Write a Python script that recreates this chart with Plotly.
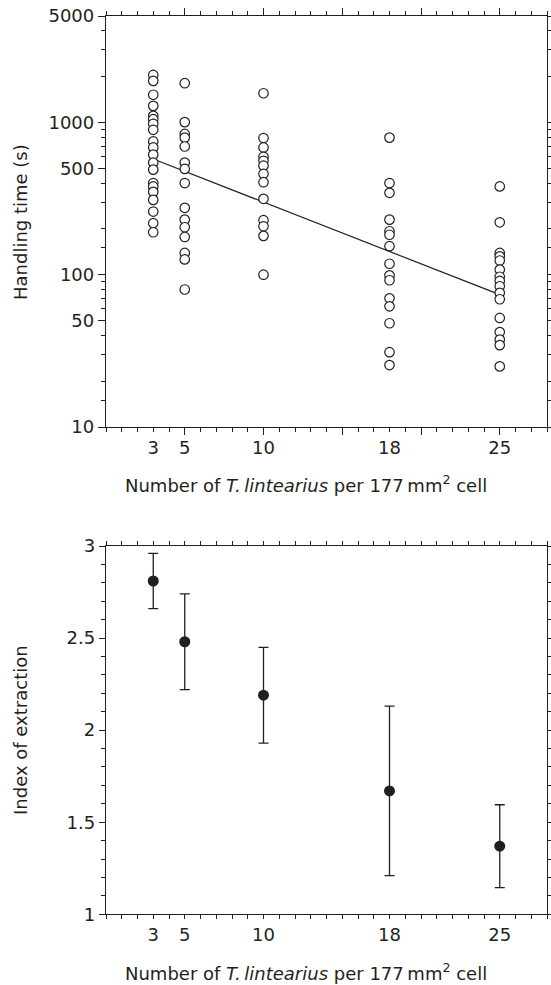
import plotly.graph_objects as go

# ---------------- data ----------------
density = [3, 5, 10, 18, 25]
density_labels = ["3", "5", "10", "18", "25"]

ht_d3 = [2050, 1875, 1520, 1285, 1105, 1050, 980, 895, 750, 685, 615, 545, 490, 400, 380, 350, 310, 260, 218, 190]
ht_d5 = [1810, 1005, 840, 795, 695, 545, 495, 400, 275, 230, 205, 177, 139, 126, 80]
ht_d10 = [1555, 790, 685, 595, 560, 520, 460, 405, 315, 228, 208, 180, 100]
ht_d18 = [795, 400, 345, 230, 193, 183, 154, 118, 99, 92, 70, 62, 48, 31, 25.5]
ht_d25 = [380, 221, 139, 132, 124, 108, 97, 91, 84, 76, 69, 52, 42, 37.5, 34.5, 25]

fit_x = [3, 25]
fit_y = [575, 74]

iox_mean = [2.81, 2.48, 2.19, 1.67, 1.37]
iox_err = [0.15, 0.26, 0.26, 0.46, 0.225]

top_ytick_vals = [10, 50, 100, 500, 1000, 5000]
top_ytick_text = ["10", "50", "100", "500", "1000", "5000"]
top_yminor_vals = [15, 20, 30, 40, 60, 70, 80, 90, 150, 200, 300, 400, 600, 700, 800, 900, 2000, 3000, 4000]
top_xmajor_vals = [5, 10, 15, 20, 25]

bot_ytick_vals = [1, 1.5, 2, 2.5, 3]
bot_ytick_text = ["1", "1.5", "2", "2.5", "3"]

# ---------------- build ----------------
groups = [ht_d3, ht_d5, ht_d10, ht_d18, ht_d25]
sc_x, sc_y = [], []
for d, vals in zip(density, groups):
    sc_x += [d] * len(vals)
    sc_y += vals

INK = "#231f20"
FONT = "DejaVu Sans"
FS = 18
W, H = 551, 985

fig = go.Figure()

fig.add_trace(go.Scatter(x=fit_x, y=fit_y, mode="lines",
                         line=dict(color=INK, width=1.2),
                         xaxis="x", yaxis="y", hoverinfo="skip"))
fig.add_trace(go.Scatter(x=sc_x, y=sc_y, mode="markers",
                         marker=dict(symbol="circle", size=9.5, color="white",
                                     line=dict(color=INK, width=1.2)),
                         xaxis="x", yaxis="y"))
# empty trace to register the overlay axis carrying the long ticks
fig.add_trace(go.Scatter(x=[], y=[], xaxis="x3", yaxis="y", hoverinfo="skip"))

fig.add_trace(go.Scatter(x=density, y=iox_mean, mode="markers",
                         marker=dict(symbol="circle", size=11, color=INK),
                         error_y=dict(type="data", array=iox_err, color=INK,
                                      thickness=1.3, width=5),
                         xaxis="x2", yaxis="y2"))

xdom = [106 / W, 547 / W]
top_dom = [1 - 427 / H, 1 - 16 / H]
bot_dom = [1 - 914.3 / H, 1 - 546 / H]

axis_common = dict(showgrid=False, zeroline=False, showline=True, linecolor=INK,
                   linewidth=1.3, ticks="outside", tickcolor=INK, tickwidth=1.2,
                   mirror="ticks", automargin=False,
                   tickfont=dict(family=FONT, size=FS, color=INK))

fig.update_layout(
    width=W, height=H,
    margin=dict(l=0, r=0, t=0, b=0),
    paper_bgcolor="white", plot_bgcolor="white",
    showlegend=False,
    font=dict(family=FONT, size=FS, color=INK),
    xaxis=dict(domain=xdom, range=[0, 28], anchor="y",
               tickmode="array", tickvals=density, ticktext=density_labels,
               ticklen=4,
               minor=dict(tickmode="linear", tick0=0, dtick=1, ticks="outside",
                          ticklen=4, tickcolor=INK, tickwidth=1.2),
               **axis_common),
    xaxis3=dict(domain=xdom, range=[0, 28], anchor="y", overlaying="x",
                tickmode="array", tickvals=top_xmajor_vals, ticklen=7,
                showticklabels=False, **axis_common),
    yaxis=dict(domain=top_dom, type="log", range=[1, 3.69897], anchor="x",
               tickmode="array", tickvals=top_ytick_vals, ticktext=top_ytick_text,
               ticklen=7,
               minor=dict(tickmode="array", tickvals=top_yminor_vals, ticks="outside",
                          ticklen=4, tickcolor=INK, tickwidth=1.2),
               **axis_common),
    xaxis2=dict(domain=xdom, range=[0, 28], anchor="y2",
                tickmode="array", tickvals=density, ticktext=density_labels,
                ticklen=4,
                minor=dict(tickmode="linear", tick0=0, dtick=1, ticks="outside",
                           ticklen=4, tickcolor=INK, tickwidth=1.2),
                **axis_common),
    yaxis2=dict(domain=bot_dom, range=[1, 3], anchor="x2",
                tickmode="array", tickvals=bot_ytick_vals, ticktext=bot_ytick_text,
                ticklen=6,
                minor=dict(tickmode="linear", tick0=1, dtick=0.1, ticks="outside",
                           ticklen=4, tickcolor=INK, tickwidth=1.2),
                **axis_common),
)

xtitle = "Number of <i>T.\u2009lintearius</i> per 177\u2009mm<sup>2</sup> cell"
ann = [
    dict(text="Handling time (s)", x=20 / W, y=1 - 222 / H, textangle=-90),
    dict(text="Index of extraction", x=20 / W, y=1 - 730 / H, textangle=-90),
    dict(text=xtitle, x=306 / W, y=1 - 484 / H),
    dict(text=xtitle, x=306 / W, y=1 - 972 / H),
]
for a in ann:
    fig.add_annotation(xref="paper", yref="paper", showarrow=False,
                       xanchor="center", yanchor="middle",
                       font=dict(family=FONT, size=FS, color=INK), **a)

fig.write_html("out.html")
